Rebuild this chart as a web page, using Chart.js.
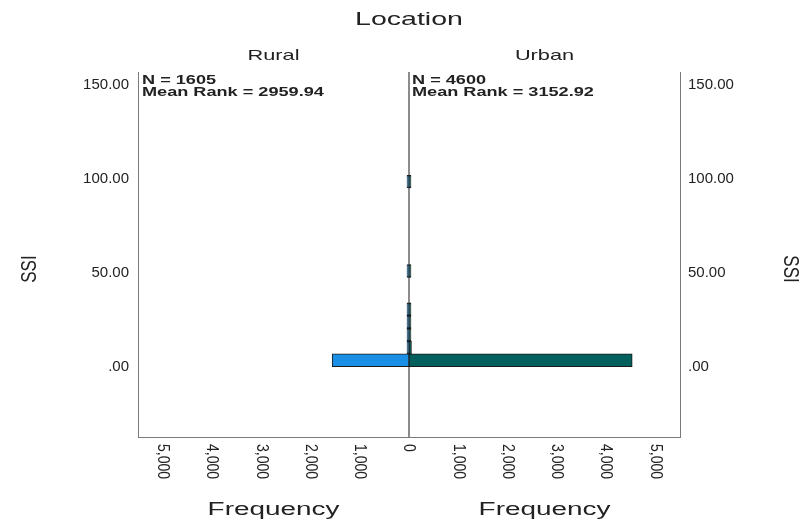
<!DOCTYPE html>
<html>
<head>
<meta charset="utf-8">
<script src="https://cdn.jsdelivr.net/npm/chart.js@4.4.1/dist/chart.umd.min.js"></script>
<style>
  html, body { margin: 0; background: #ffffff; }
  #wrap { position: relative; width: 809px; height: 520px; }
</style>
</head>
<body>
<div id="wrap"><canvas id="pyramid"></canvas></div>
<script>
// Grouping variable and test summaries
const groups = ['Rural', 'Urban'];
const groupN = [1605, 4600];
const groupMeanRank = ['2959.94', '3152.92'];

// SSI histogram bins (bin mid-points) and frequencies per group
const ssiBinMid = [3.4, 10.2, 17.0, 23.8, 30.6, 37.4, 44.2, 51.0, 57.8, 64.6, 71.4, 78.2, 85.0, 91.8, 98.6];
const ruralFreq = [1560, 30, 6, 4, 3, null, null, 1, null, null, null, null, null, null, 1];
const urbanFreq = [4530, 50, 8, 5, 3, null, null, 2, null, null, null, null, null, null, 2];

// Axis ticks
const ssiTicks = [0, 50, 100, 150];
const freqTicks = [0, 1000, 2000, 3000, 4000, 5000];

const TEXT = '#222222';
const AXIS = '#7a7a7a';
const FONT = '"Liberation Sans", Arial, sans-serif';

function toPoints(freqs) {
  return ssiBinMid.map((mid, i) => ({ x: freqs[i], y: mid }));
}

function ssiLabel(v) {
  return v === 0 ? '.00' : v.toFixed(2);
}

// Text drawn with a horizontal widening factor (sx); for rotated text the
// factor widens the glyph height so it stays horizontal on screen.
function drawText(ctx, text, x, y, opts) {
  ctx.save();
  ctx.translate(x, y);
  if (opts.rotate) {
    ctx.rotate(opts.rotate);
    ctx.scale(1, opts.sx || 1);
  } else {
    ctx.scale(opts.sx || 1, 1);
  }
  ctx.font = opts.font;
  ctx.fillStyle = TEXT;
  ctx.textAlign = opts.align || 'center';
  ctx.textBaseline = opts.baseline || 'middle';
  ctx.fillText(text, 0, 0);
  ctx.restore();
}

const pyramidDecor = {
  id: 'pyramidDecor',
  beforeDatasetsDraw(chart) {
    const { ctx, chartArea, scales } = chart;
    const x0 = Math.round(scales.xU.getPixelForValue(0));
    ctx.save();
    ctx.strokeStyle = '#8c8c8c';
    ctx.lineWidth = 2;
    ctx.beginPath();
    ctx.moveTo(x0, chartArea.top);
    ctx.lineTo(x0, chartArea.bottom);
    ctx.stroke();
    ctx.restore();
  },
  afterDraw(chart) {
    const { ctx, chartArea, scales } = chart;
    const xR = scales.xR, xU = scales.xU;
    const midY = scales.y.getPixelForValue(52);

    // chart title and panel headers
    drawText(ctx, 'Location', (chartArea.left + chartArea.right) / 2, 20, { font: '19px ' + FONT, sx: 1.5 });
    drawText(ctx, groups[0], (xR.left + xR.right) / 2, 56, { font: '15px ' + FONT, sx: 1.45 });
    drawText(ctx, groups[1], (xU.left + xU.right) / 2, 56, { font: '15px ' + FONT, sx: 1.45 });

    // N and mean rank inside each panel
    const boxes = [xR.left + 4, xU.left + 3];
    boxes.forEach((bx, i) => {
      drawText(ctx, 'N = ' + groupN[i], bx, 84, { font: 'bold 12.5px ' + FONT, sx: 1.45, align: 'left', baseline: 'alphabetic' });
      drawText(ctx, 'Mean Rank = ' + groupMeanRank[i], bx, 96, { font: 'bold 12.5px ' + FONT, sx: 1.45, align: 'left', baseline: 'alphabetic' });
    });

    // rotated frequency tick labels
    const tickTop = chartArea.bottom + 7;
    xR.ticks.forEach(t => {
      if (t.value === 0) return;
      drawText(ctx, t.value.toLocaleString('en-US'), xR.getPixelForValue(t.value), tickTop,
        { font: '14px ' + FONT, rotate: Math.PI / 2, sx: 1.2, align: 'left' });
    });
    xU.ticks.forEach(t => {
      drawText(ctx, t.value.toLocaleString('en-US'), xU.getPixelForValue(t.value), tickTop,
        { font: '14px ' + FONT, rotate: Math.PI / 2, sx: 1.2, align: 'left' });
    });

    // axis titles
    drawText(ctx, 'Frequency', (xR.left + xR.right) / 2, 510, { font: '18px ' + FONT, sx: 1.55 });
    drawText(ctx, 'Frequency', (xU.left + xU.right) / 2, 510, { font: '18px ' + FONT, sx: 1.55 });
    drawText(ctx, 'SSI', 30, midY, { font: '17px ' + FONT, rotate: -Math.PI / 2, sx: 1.3 });
    drawText(ctx, 'SSI', 790, midY, { font: '17px ' + FONT, rotate: Math.PI / 2, sx: 1.3 });
  }
};

const freqAxis = (reverse) => ({
  type: 'linear',
  position: 'bottom',
  stack: 'freq',
  stackWeight: 1,
  reverse: reverse,
  min: 0,
  max: 5500,
  offset: false,
  afterBuildTicks: (s) => { s.ticks = freqTicks.map(v => ({ value: v })); },
  afterFit: (s) => { s.height = 83; },
  ticks: { display: false },
  grid: { display: false, drawTicks: false, offset: false },
  border: { display: true, color: AXIS, width: 1 }
});

const ssiAxis = (position, width, pad) => ({
  type: 'linear',
  position: position,
  min: -37.5,
  max: 157,
  offset: false,
  afterBuildTicks: (s) => { s.ticks = ssiTicks.map(v => ({ value: v })); },
  afterFit: (s) => { s.width = width; },
  ticks: {
    padding: pad,
    color: TEXT,
    font: { family: FONT, size: 15 },
    callback: (v) => ssiLabel(v)
  },
  grid: { display: false, drawTicks: false, offset: false },
  border: { display: true, color: AXIS, width: 1 }
});

new Chart(document.getElementById('pyramid'), {
  type: 'bar',
  data: {
    datasets: [
      {
        label: groups[0],
        data: toPoints(ruralFreq),
        xAxisID: 'xR',
        yAxisID: 'y',
        backgroundColor: '#1b8fe6',
        borderColor: '#1a1a1a',
        borderWidth: 1,
        borderSkipped: false,
        minBarLength: 2
      },
      {
        label: groups[1],
        data: toPoints(urbanFreq),
        xAxisID: 'xU',
        yAxisID: 'y',
        backgroundColor: '#03605c',
        borderColor: '#1a1a1a',
        borderWidth: 1,
        borderSkipped: false,
        minBarLength: 2
      }
    ]
  },
  options: {
    indexAxis: 'y',
    responsive: true,
    maintainAspectRatio: false,
    animation: false,
    grouped: false,
    barPercentage: 1,
    categoryPercentage: 1,
    layout: { padding: { top: 72, left: 0, right: 0, bottom: 0 } },
    plugins: {
      legend: { display: false },
      title: { display: false },
      tooltip: { enabled: false }
    },
    scales: {
      xR: freqAxis(true),
      xU: freqAxis(false),
      y: ssiAxis('left', 138, 9),
      y2: ssiAxis('right', 129, 8)
    }
  },
  plugins: [pyramidDecor]
});
</script>
</body>
</html>
